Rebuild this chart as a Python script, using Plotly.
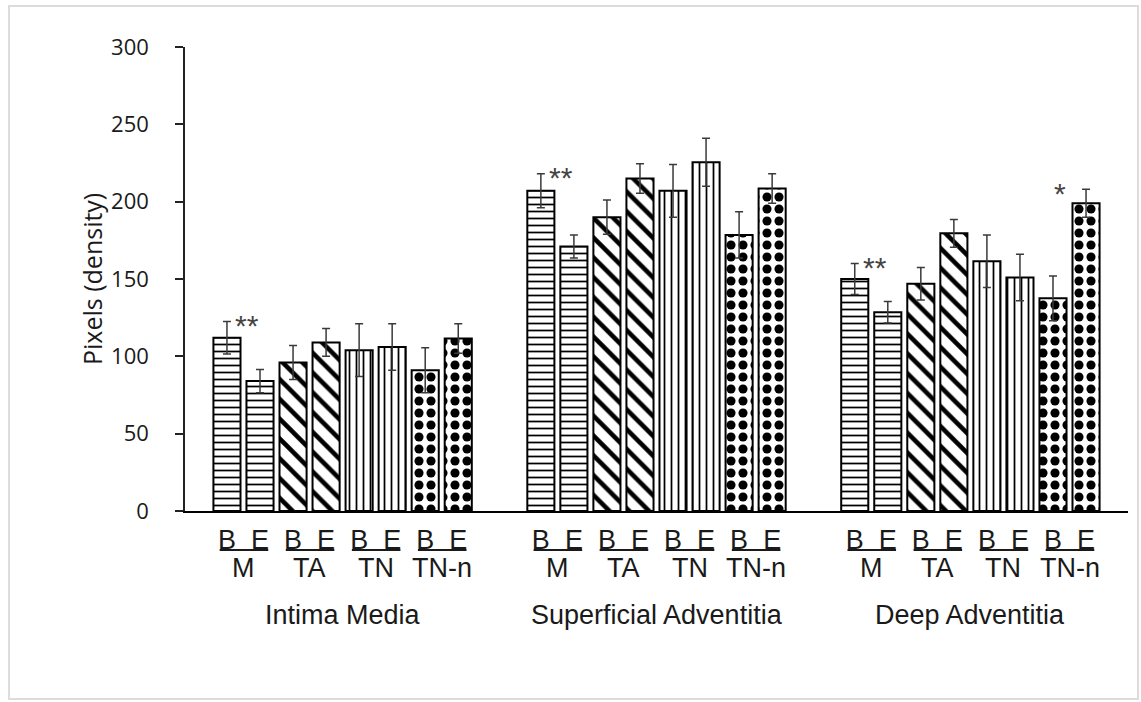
import plotly.graph_objects as go

# Regions of the vessel wall (one cluster of bars each)
regions = ["Intima Media", "Superficial Adventitia", "Deep Adventitia"]
treatments = ["M", "TA", "TN", "TN-n"]
phases = ["B", "E"]

# Mean density (pixels) per region, for each treatment and phase
m_b = [112, 207, 150]
m_e = [84, 171, 128.5]
ta_b = [96, 190, 147]
ta_e = [109, 215, 179.5]
tn_b = [104, 207, 161.5]
tn_e = [106, 225.5, 151]
tnn_b = [91, 178.5, 137.5]
tnn_e = [111.5, 208.5, 199]

# Standard errors
m_b_err = [10.5, 11, 10]
m_e_err = [7.5, 7.5, 7]
ta_b_err = [11, 11, 10.5]
ta_e_err = [9, 9.5, 9]
tn_b_err = [17, 17, 17]
tn_e_err = [15, 15.5, 15]
tnn_b_err = [14.5, 15, 14.5]
tnn_e_err = [9.5, 9.5, 9]

# Significance marks: (region index, treatment, phase, text, side)
sig_marks = [
    (0, "M", "B", "**", "right"),
    (1, "M", "B", "**", "right"),
    (2, "M", "B", "**", "right"),
    (2, "TN-n", "E", "*", "left"),
]

y_ticks = [0, 50, 100, 150, 200, 250, 300]

series = {
    ("M", "B"): (m_b, m_b_err), ("M", "E"): (m_e, m_e_err),
    ("TA", "B"): (ta_b, ta_b_err), ("TA", "E"): (ta_e, ta_e_err),
    ("TN", "B"): (tn_b, tn_b_err), ("TN", "E"): (tn_e, tn_e_err),
    ("TN-n", "B"): (tnn_b, tnn_b_err), ("TN-n", "E"): (tnn_e, tnn_e_err),
}

patterns = {
    "M": dict(shape="-", fgcolor="black", bgcolor="white", size=7, solidity=0.25, fgopacity=1),
    "TA": dict(shape="\\", fgcolor="black", bgcolor="white", size=14, solidity=0.33, fgopacity=1),
    "TN": dict(shape="|", fgcolor="black", bgcolor="white", size=7, solidity=0.25, fgopacity=1),
    "TN-n": dict(shape=".", fgcolor="black", bgcolor="white", size=12, solidity=0.45, fgopacity=1),
}

GROUP_STEP = 9.5  # slot spacing between region clusters
BAR_W = 0.82


def xpos(g, t, p):
    return g * GROUP_STEP + 2 * treatments.index(t) + phases.index(p)


fig = go.Figure()
for t in treatments:
    for p in phases:
        vals, errs = series[(t, p)]
        fig.add_trace(go.Bar(
            x=[xpos(g, t, p) for g in range(len(regions))],
            y=vals,
            width=BAR_W,
            name=f"{t} {p}",
            marker=dict(color="white", pattern=patterns[t],
                        line=dict(color="black", width=2)),
            error_y=dict(type="data", array=errs, visible=True,
                         color="#3a3a3a", thickness=1.5, width=4),
            showlegend=False,
        ))

tickvals, ticktext = [], []
annotations, shapes = [], []
lab_font = dict(family="Liberation Sans, Arial", size=27, color="#1a1a1a")
for g, region in enumerate(regions):
    for t in treatments:
        xb, xe = xpos(g, t, "B"), xpos(g, t, "E")
        tickvals += [xb, xe]
        ticktext += ["B", "E"]
        shapes.append(dict(type="line", xref="x", yref="paper",
                           x0=xb - 0.22, x1=xe + 0.25, y0=-0.0841, y1=-0.0841,
                           line=dict(color="#1a1a1a", width=2)))
        annotations.append(dict(x=(xb + xe) / 2, y=-0.1228, xref="x", yref="paper",
                                text=t, showarrow=False, font=lab_font,
                                xanchor="center", yanchor="middle"))
    centre = (xpos(g, "M", "B") + xpos(g, "TN-n", "E")) / 2
    annotations.append(dict(x=centre, y=-0.2241, xref="x", yref="paper",
                            text=region, showarrow=False, font=lab_font,
                            xanchor="center", yanchor="middle"))

for g, t, p, txt, side in sig_marks:
    vals, errs = series[(t, p)]
    dx = 0.62 if side == "right" else -0.8
    annotations.append(dict(x=xpos(g, t, p) + dx, y=vals[g] + errs[g],
                            xref="x", yref="y", text=txt, showarrow=False,
                            font=dict(family="Liberation Sans, Arial", size=30, color="#444444"),
                            xanchor="center", yanchor="middle", yshift=-4))

# y-axis title
annotations.append(dict(x=-0.0986, y=0.5, xref="paper", yref="paper",
                        text="Pixels (density)", textangle=-90, showarrow=False,
                        font=dict(family="Open Sans", size=25, color="#1a1a1a"),
                        xanchor="center", yanchor="middle"))

# light frame round the chart
shapes.append(dict(type="rect", xref="paper", yref="paper",
                   x0=-0.1866, x1=1.0106, y0=-0.405, y1=1.0884,
                   line=dict(color="#dcdcdc", width=2), layer="below"))

x_lo = -1.27
x_hi = (len(regions) - 1) * GROUP_STEP + 7 + 1.27

fig.update_layout(
    width=1141, height=702,
    margin=dict(l=185, r=13, t=47, b=191),
    paper_bgcolor="white", plot_bgcolor="white",
    barmode="overlay",
    annotations=annotations, shapes=shapes,
    xaxis=dict(range=[x_lo, x_hi], tickvals=tickvals, ticktext=ticktext,
               showline=True, linecolor="black", linewidth=2, ticks="",
               showgrid=False, zeroline=False, tickfont=lab_font,
               ticklabelstandoff=4),
    yaxis=dict(range=[0, 300], tickvals=y_ticks, showline=True,
               linecolor="#222222", linewidth=1.5, ticks="outside", ticklen=8,
               tickcolor="#222222", tickwidth=1.5, showgrid=False, zeroline=False,
               tickfont=dict(family="Open Sans", size=22, color="#1a1a1a"),
               ticklabelstandoff=22),
)

fig.write_html("out.html")
